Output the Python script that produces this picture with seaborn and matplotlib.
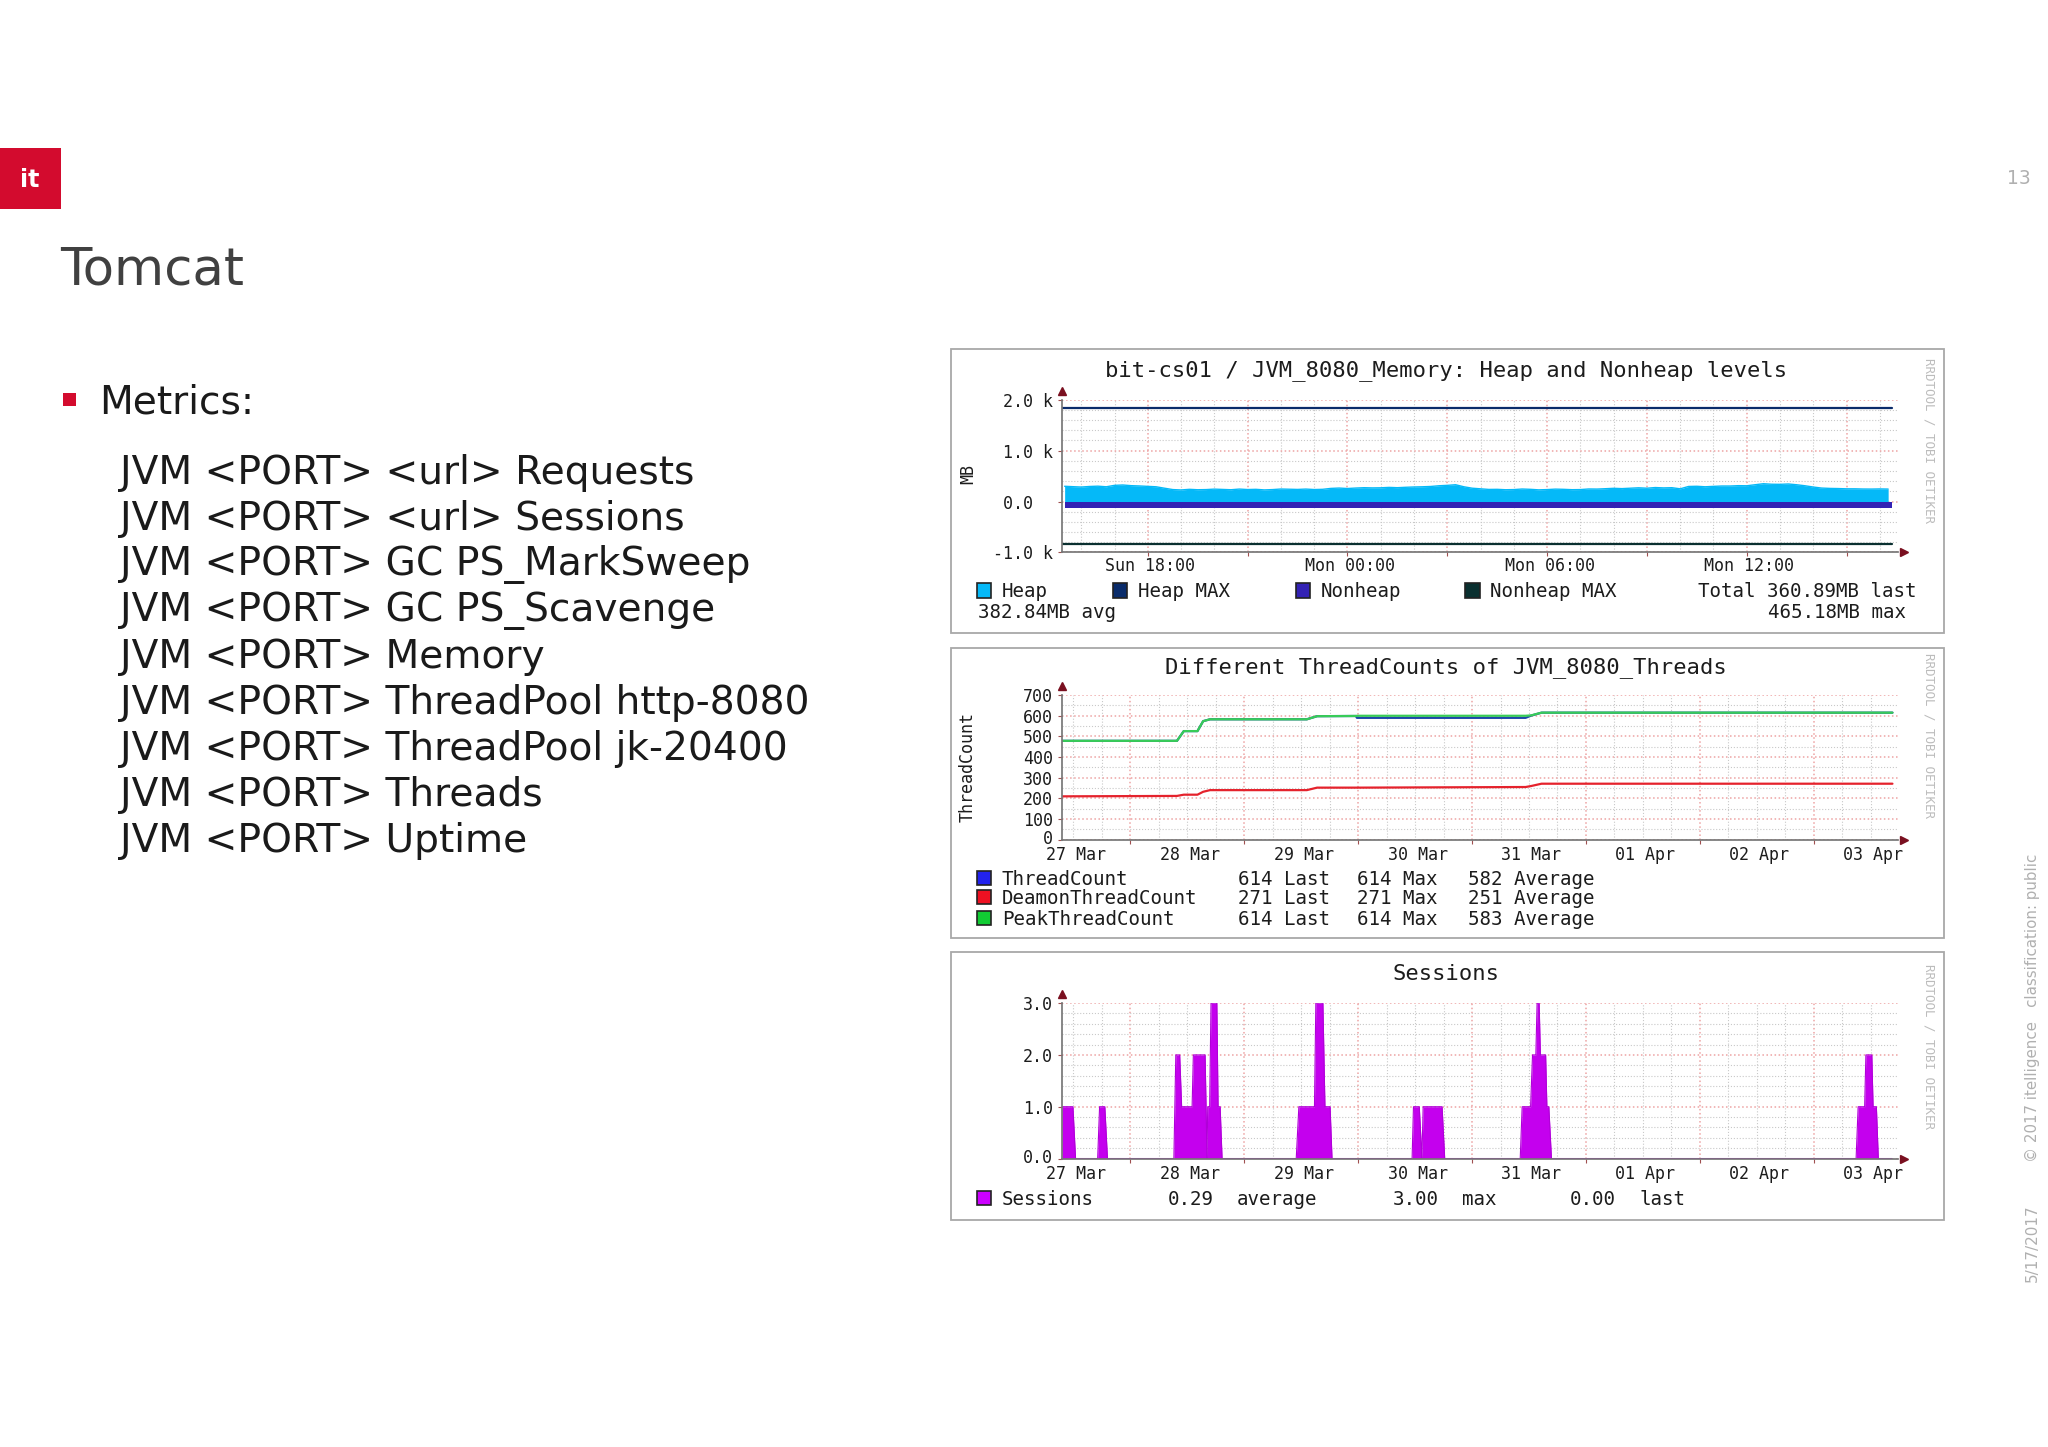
#!/usr/bin/env python

import matplotlib
matplotlib.use('Agg')
import matplotlib.pyplot as plt
from matplotlib.patches import Rectangle
from matplotlib.transforms import ScaledTranslation
import numpy as np
import pandas as pd
import seaborn as sns

# slide text
slide_title = 'Tomcat'
metrics_head = 'Metrics:'
metrics = ['JVM <PORT> <url> Requests', 'JVM <PORT> <url> Sessions', 'JVM <PORT> GC PS_MarkSweep',
           'JVM <PORT> GC PS_Scavenge', 'JVM <PORT> Memory', 'JVM <PORT> ThreadPool http-8080',
           'JVM <PORT> ThreadPool jk-20400', 'JVM <PORT> Threads', 'JVM <PORT> Uptime']

# memory chart, x in hours since Sunday 00:00, one reading every quarter hour from 15.5
heap_mb = [300, 292, 285, 296, 302, 290, 318, 325, 312, 306, 298, 290,
           262, 235, 228, 240, 232, 235, 244, 238, 232, 245, 236, 240, 229, 235, 246, 242, 238, 245, 236, 240,
           258, 265, 256, 265, 272, 268, 270, 278, 272, 280, 286, 290, 296, 310, 318, 330,
           290, 262, 250, 238, 240, 232, 235, 246, 240, 230, 235, 244, 240, 233, 235, 247,
           245, 252, 260, 254, 262, 270, 262, 275, 268, 272,
           250, 296, 300, 290, 298, 305, 305, 312, 310,
           330, 350, 340, 338, 345, 330, 310, 285, 265, 258, 255, 250, 250, 246, 245, 248, 245]
heap_hours = [15.5 + 0.25 * i for i in range(len(heap_mb))]
nonheap_hours = [15.5, 40.38]
nonheap_mb = [-120, -120]
max_hours = [15.42, 40.38]
heap_max_mb = [1830, 1830]
nonheap_max_mb = [-840, -840]

# thread chart, x in days (Apr 1 = 32)
thread_days = [27.4, 28.41, 28.47, 28.59, 28.64, 28.7, 29.55, 29.64, 29.98, 29.99, 31.47, 31.52, 31.61, 34.69]
thread_count = [478, 478, 525, 525, 573, 582, 582, 597, 598, 589, 589, 600, 614, 614]
daemon_count = [210, 212, 218, 218, 232, 240, 240, 252, 252, 252, 255, 260, 271, 271]
peak_count = [478, 478, 525, 525, 573, 582, 582, 597, 598, 599, 599, 601, 614, 614]

# sessions chart
session_days = [27.4, 27.497, 27.52, 27.714, 27.731, 27.777, 27.8, 28.383, 28.4, 28.434, 28.451, 28.543, 28.554,
                28.657, 28.674, 28.68, 28.697, 28.709, 28.76, 28.771, 28.789, 28.806, 29.457, 29.48, 29.617,
                29.629, 29.691, 29.709, 29.754, 29.771, 30.474, 30.486, 30.537, 30.56, 30.571, 30.737, 30.76,
                31.423, 31.44, 31.514, 31.531, 31.56, 31.571, 31.589, 31.6, 31.646, 31.657, 31.674, 31.697,
                34.371, 34.389, 34.446, 34.457, 34.509, 34.52, 34.549, 34.566, 34.686]
session_vals = [1, 1, 0, 0, 1, 1, 0, 0, 2, 2, 1, 1, 2,
                2, 0, 1, 1, 3, 3, 1, 1, 0, 0, 1, 1,
                3, 3, 1, 1, 0, 0, 1, 1, 0, 1, 1, 0,
                0, 1, 1, 2, 2, 3, 3, 2, 2, 1, 1, 0,
                0, 1, 1, 2, 2, 1, 1, 0, 0]

day_labels = ['27 Mar', '28 Mar', '29 Mar', '30 Mar', '31 Mar', '01 Apr', '02 Apr', '03 Apr']
hour_labels = {18: 'Sun 18:00', 24: 'Mon 00:00', 30: 'Mon 06:00', 36: 'Mon 12:00'}
watermark = 'RRDTOOL / TOBI OETIKER'

HEAP = '#05b9f8'
HEAP_MAX = '#0a2c6b'
NONHEAP = '#3322b4'
NONHEAP_MAX = '#0a3030'
MONO = 'DejaVu Sans Mono'
INK = '#1c1c1c'

sns.set_theme(style='white')
plt.rcParams['font.family'] = ['DejaVu Sans']

S = 2048 / 1568
W, H = 2048, 1447
fig = plt.figure(figsize=(W / 100, H / 100), dpi=100, facecolor='white')


def fx(x):
    return x * S / W


def fy(y):
    return 1 - y * S / H


def label(x, y, s, size=13.8, ha='left', va='center', family=MONO, color=INK, **kw):
    fig.text(fx(x), fy(y), s, fontsize=size, ha=ha, va=va, family=family, color=color, **kw)


def box(x0, y0, x1, y1, face, edge='none', lw=1.0):
    fig.add_artist(Rectangle((fx(x0), fy(y1)), fx(x1) - fx(x0), fy(y0) - fy(y1), transform=fig.transFigure,
                             facecolor=face, edgecolor=edge, linewidth=lw))


def swatch(x, y, color):
    box(x, y - 5.5, x + 11, y + 5.5, color, edge='#222222', lw=1.2)


def chart_axes(panel_top, panel_bottom, left, right, top, bottom, xlim, ylim, wm_y):
    box(728, panel_top, 1488, panel_bottom, 'white', edge='#a8a8a8', lw=1.3)
    ax = fig.add_axes([fx(left), fy(bottom), fx(right) - fx(left), fy(top) - fy(bottom)])
    ax.set_zorder(2)
    ax.set_facecolor('none')
    ax.set_xlim(*xlim)
    ax.set_ylim(*ylim)
    sns.despine(ax=ax)
    ax.spines['left'].set_color('#777777')
    ax.spines['bottom'].set_color('#777777')
    ax.grid(True, which='major', color='#eda3a3', linestyle=':', linewidth=1.1)
    ax.grid(True, which='minor', color='#c9c9c9', linestyle=':', linewidth=0.8)
    ax.set_axisbelow(True)
    ax.tick_params(axis='both', which='major', length=3, width=0.8, color='#a05050', labelsize=12,
                   labelcolor=INK, pad=0.5, left=True, bottom=True)
    ax.tick_params(axis='y', which='major', pad=3.5)
    ax.tick_params(axis='both', which='minor', length=0, labelsize=12, labelcolor=INK, pad=4.5)
    ax.set_xlabel('')
    ax.set_ylabel('')
    # rrdtool axis arrows
    ax.plot([0], [1.0 + 7 / (bottom - top)], marker='^', ms=6, color='#7a1020', transform=ax.transAxes,
            clip_on=False, ls='none')
    ax.plot([1.0 + 5 / (right - left)], [0], marker='>', ms=6, color='#7a1020', transform=ax.transAxes,
            clip_on=False, ls='none')
    label(1477, wm_y, watermark, size=9, ha='center', color='#bcbcbc', rotation=-90)
    return ax


def nudge(t, dx=0, dy=0):
    t.set_transform(t.get_transform() + ScaledTranslation(dx / 100, dy / 100, fig.dpi_scale_trans))


def set_mono(ax):
    for t in ax.get_xticklabels(which='both') + ax.get_yticklabels():
        t.set_family(MONO)
    for t in ax.get_xticklabels(which='both'):
        nudge(t, dx=2.5)


def day_ticks(ax):
    ax.set_xticks(np.arange(28, 35))
    ax.set_xticklabels([])
    minor = np.arange(27.5, 34.75, 0.25)
    ax.set_xticks(minor, minor=True)
    ax.set_xticklabels([day_labels[int(m - 27)] if m % 1 == 0.5 else '' for m in minor], minor=True)


# page furniture
box(0, 113, 47, 160, '#d30b2e')
label(23, 138, 'it', size=17, ha='center', family='DejaVu Sans', color='white', fontweight='bold')
label(1546, 137, '13', size=13.5, ha='center', family='DejaVu Sans', color='#b0b0b0')
label(46, 207, slide_title, size=37, family='DejaVu Sans', color='#404040')
box(48, 301, 58, 311, '#d30b2e')
label(76, 308, metrics_head, size=28.2, family='DejaVu Sans', color='#1a1a1a')
for i, line in enumerate(metrics):
    label(92, 362 + i * 35.25, line, size=28.2, family='DejaVu Sans', color='#1a1a1a')
label(1556, 772, '© 2017 itelligence   classification: public', size=10.8, ha='center', family='DejaVu Sans',
      color='#b0b0b0', rotation=90)
label(1556, 952, '5/17/2017', size=11, ha='center', family='DejaVu Sans', color='#b0b0b0', rotation=90)

# memory chart
ax = chart_axes(267, 485, 813, 1453, 306, 423, (15.417, 40.54), (-1000, 2000), 337)
ax.fill_between(heap_hours, 0, heap_mb, color=HEAP, lw=0)
ax.fill_between(nonheap_hours, nonheap_mb, 0, color=NONHEAP, lw=0)
mem = pd.DataFrame({'hour': max_hours * 2, 'mb': heap_max_mb + nonheap_max_mb,
                    'series': ['Heap MAX'] * 2 + ['Nonheap MAX'] * 2})
sns.lineplot(data=mem, x='hour', y='mb', hue='series', palette={'Heap MAX': HEAP_MAX, 'Nonheap MAX': NONHEAP_MAX},
             linewidth=1.6, legend=False, ax=ax)
sns.lineplot(x=heap_hours, y=heap_mb, color=HEAP, linewidth=1.0, ax=ax)
ax.set_xlabel('')
ax.set_ylabel('')
major = np.arange(18, 40, 3)
ax.set_xticks(major)
ax.set_xticklabels([hour_labels.get(int(h), '') for h in major])
ax.set_xticks(np.arange(16, 41), minor=True)
ax.set_yticks([-1000, 0, 1000, 2000], ['-1.0 k', '0.0  ', '1.0 k', '2.0 k'])
ax.set_yticks(np.arange(-1000, 2000, 200), minor=True)
set_mono(ax)
label(741, 363, 'MB', size=12, ha='center', rotation=90)
label(1107, 284, 'bit-cs01 / JVM_8080_Memory: Heap and Nonheap levels', size=15.9, ha='center')
for sx, tx, name, c in [(748, 767, 'Heap', HEAP), (852, 871, 'Heap MAX', HEAP_MAX),
                        (992, 1011, 'Nonheap', NONHEAP), (1122, 1141, 'Nonheap MAX', NONHEAP_MAX)]:
    swatch(sx, 452, c)
    label(tx, 453, name)
label(1467, 453, 'Total 360.89MB last', ha='right')
label(749, 469, '382.84MB avg')
label(1459, 469, '465.18MB max', ha='right')

# thread chart
ax = chart_axes(496, 718, 813, 1453, 532, 643, (27.4, 34.737), (0, 700), 563)
n = len(thread_days)
threads = pd.DataFrame({'day': thread_days * 3, 'count': thread_count + daemon_count + peak_count,
                        'series': ['ThreadCount'] * n + ['DeamonThreadCount'] * n + ['PeakThreadCount'] * n})
sns.lineplot(data=threads, x='day', y='count', hue='series', linewidth=1.6, legend=False, ax=ax,
             palette={'ThreadCount': '#1c48a8', 'DeamonThreadCount': '#e5222c', 'PeakThreadCount': '#38cc58'})
ax.set_xlabel('')
ax.set_ylabel('')
day_ticks(ax)
ax.set_yticks(np.arange(0, 800, 100), [str(v) for v in range(0, 800, 100)])
ax.set_yticks(np.arange(0, 700, 50), minor=True)
set_mono(ax)
nudge(ax.get_yticklabels()[0], dy=3)
label(741, 587, 'ThreadCount', size=12, ha='center', rotation=90)
label(1107, 511, 'Different ThreadCounts of JVM_8080_Threads', size=15.9, ha='center')
rows = [(672, 'ThreadCount', '614', '614', '582', '#2222ee'), (687, 'DeamonThreadCount', '271', '271', '251', '#ee1122'),
        (703, 'PeakThreadCount', '614', '614', '583', '#11cc33')]
for y, name, last, top, avg, c in rows:
    swatch(748, y, c)
    label(767, y + 1, name)
    label(948, y + 1, last + ' Last')
    label(1039, y + 1, top + ' Max')
    label(1124, y + 1, avg + ' Average')

# sessions chart
ax = chart_axes(729, 934, 813, 1453, 768, 887, (27.4, 34.737), (0, 3), 801)
ax.fill_between(session_days, 0, session_vals, color='#c400ee', lw=0)
sns.lineplot(x=session_days, y=session_vals, color='#b000d8', linewidth=0.8, ax=ax, sort=False, estimator=None)
ax.set_xlabel('')
ax.set_ylabel('')
day_ticks(ax)
ax.set_yticks([0, 1, 2, 3], ['0.0', '1.0', '2.0', '3.0'])
ax.set_yticks(np.arange(0, 3, 0.2), minor=True)
set_mono(ax)
nudge(ax.get_yticklabels()[0], dy=3)
label(1107, 746, 'Sessions', size=15.9, ha='center')
swatch(748, 917, '#cc00ff')
for x, s in [(767, 'Sessions'), (894, '0.29'), (947, 'average'), (1066, '3.00'), (1119, 'max'), (1202, '0.00'),
             (1255, 'last')]:
    label(x, 918, s)

fig.savefig('out.png', dpi=100, facecolor='white')
